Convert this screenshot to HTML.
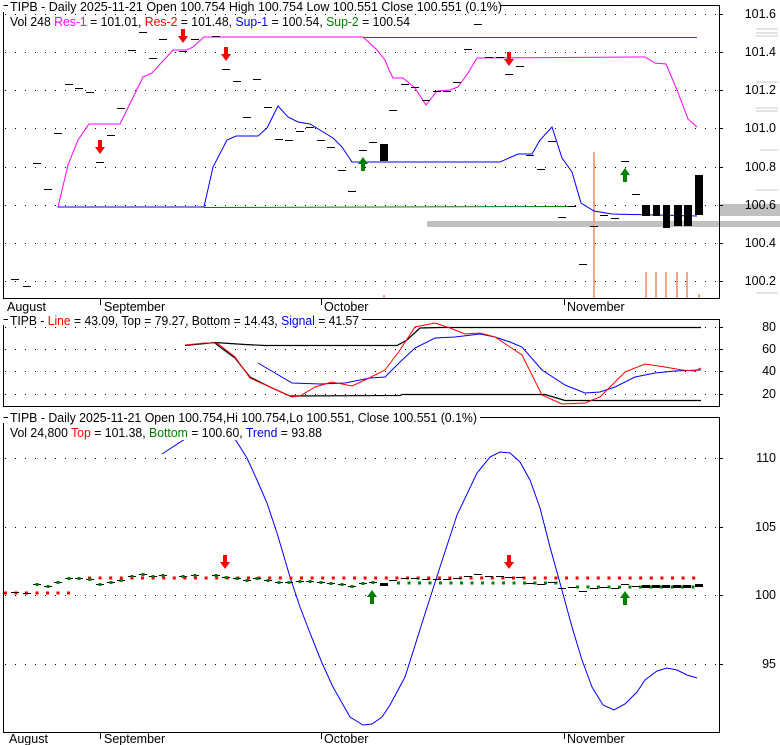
<!DOCTYPE html>
<html><head><meta charset="utf-8">
<style>
html,body{margin:0;padding:0;background:#fff;width:780px;height:745px;overflow:hidden}
svg{display:block;font-family:"Liberation Sans",Arial,sans-serif}
</style></head><body>
<svg id="s" width="780" height="745" viewBox="0 0 780 745" xmlns="http://www.w3.org/2000/svg">
<defs>
<clipPath id="cb"><rect x="4" y="440" width="715" height="292"/></clipPath>
</defs>
<rect width="780" height="745" fill="#fff"/>
<rect x="427" y="221" width="353" height="6" fill="#c0c0c0"/>
<rect x="719" y="204" width="61" height="12" fill="#c0c0c0"/>
<g stroke="#c8c8c8" stroke-width="1">
<line x1="756" y1="29" x2="778" y2="29"/><line x1="756" y1="33" x2="778" y2="33"/><line x1="756" y1="36" x2="778" y2="36"/>
<line x1="756" y1="82" x2="778" y2="82"/><line x1="756" y1="108" x2="778" y2="108"/><line x1="756" y1="111" x2="778" y2="111"/>
<line x1="760" y1="150" x2="778" y2="150"/><line x1="756" y1="190" x2="778" y2="190"/><line x1="756" y1="293" x2="778" y2="293"/>
</g>
<g stroke="#000" stroke-width="1" stroke-dasharray="1 9">
<line x1="5" y1="14.5" x2="719" y2="14.5"/><line x1="5" y1="52.5" x2="719" y2="52.5"/><line x1="5" y1="90.5" x2="719" y2="90.5"/>
<line x1="5" y1="128.5" x2="719" y2="128.5"/><line x1="5" y1="167.5" x2="719" y2="167.5"/><line x1="5" y1="205.5" x2="719" y2="205.5"/>
<line x1="5" y1="243.5" x2="719" y2="243.5"/><line x1="5" y1="281.5" x2="719" y2="281.5"/>
<line x1="5" y1="327.5" x2="719" y2="327.5"/><line x1="5" y1="349.5" x2="719" y2="349.5"/><line x1="5" y1="371.5" x2="719" y2="371.5"/><line x1="5" y1="394.5" x2="719" y2="394.5"/>
<line x1="5" y1="458.5" x2="719" y2="458.5"/><line x1="5" y1="527.5" x2="719" y2="527.5"/><line x1="5" y1="595.5" x2="719" y2="595.5"/><line x1="5" y1="664.5" x2="719" y2="664.5"/>
</g>
<g stroke="#f4a488" stroke-width="2">
<line x1="594" y1="152" x2="594" y2="298"/>
<line x1="646" y1="272" x2="646" y2="298"/><line x1="656" y1="272" x2="656" y2="298"/><line x1="666" y1="272" x2="666" y2="298"/><line x1="677" y1="272" x2="677" y2="298"/><line x1="687" y1="272" x2="687" y2="298"/>
<line x1="384" y1="295" x2="384" y2="298"/><line x1="699" y1="294" x2="699" y2="298"/>
</g>
<polyline fill="none" stroke="#ff00ff" stroke-width="1" points="58,207 68,165 78,140 89,124 120,124 143,77 152,73 173,50 187,50 193,47 204,37 363,37 377,50 385,60 390,72 393,78 403,78 415,88 426,105 437,91 450,90 458,87 468,73 477,58 645,57 655,63 666,64 677,90 688,119 697,127"/>
<line x1="363" y1="37.5" x2="697" y2="37.5" stroke="#ff0000"/>
<line x1="204" y1="207.5" x2="573" y2="206.5" stroke="#008000"/>
<polyline fill="none" stroke="#0000ff" stroke-width="1" points="58,207 204,207 213,167 227,140 236,136 258,136 267,128 278,106 288,117 298,122 310,124 320,130 333,138 342,147 352,162 500,162 518,154 532,154 540,140 552,127 562,158 572,172 581,203 594,211 612,214 697,216"/>
<g id="ticks"></g>
<g fill="#000">
<rect x="380" y="144" width="8" height="17"/>
<rect x="642" y="205" width="8" height="11"/><rect x="653" y="205" width="7" height="11"/><rect x="663" y="205" width="7" height="23"/><rect x="674" y="205" width="8" height="21"/><rect x="684" y="205" width="8" height="21"/><rect x="695" y="175" width="8" height="40"/>
</g>
<polyline fill="none" stroke="#000" stroke-width="1.2" points="185,345.5 215,342.5 245,344.5 265,345.5 397,345.5 407,340 420,328 440,327.5 701,327.5"/>
<polyline fill="none" stroke="#000" stroke-width="1.2" points="215,343 220,347 235,358 250,377 270,387 290,396 400,395.5 402,394.5 545,394.5 565,400.5 701,400.5"/>
<polyline fill="none" stroke="#0000ff" points="258,363 275,373 292,383 320,384 345,383 370,378 385,377 400,362 415,348 435,338 455,337 480,334 495,337 510,342 522,347 542,370 565,385 585,393 600,392 615,387 635,377 655,373 675,371 701,370"/>
<polyline fill="none" stroke="#ff0000" points="185,345 205,343 217,343 235,357 250,378 272,388 292,397 300,396 315,387 332,382 352,386 367,379 385,370 400,350 415,327 435,323 450,328 465,334 480,333 495,337 510,347 522,355 542,395 562,404 585,403 600,397 625,372 645,364 665,367 682,370 695,371 701,368"/>
<polyline clip-path="url(#cb)" fill="none" stroke="#0000ff" points="162,454 185,439 205,425 225,428 235,439 247,458 257,480 267,503 277,533 290,577 300,607 310,633 322,663 333,687 350,717 363,725 372,724 382,717 390,705 405,677 423,620 440,567 457,515 477,473 490,457 500,452 510,453 520,462 530,480 540,508 550,547 560,583 572,627 582,660 592,687 603,705 614,710 625,704 637,692 645,680 657,671 667,668 677,670 687,675 697,678"/>
<line x1="4" y1="593" x2="72" y2="593" stroke="#ff0000" stroke-width="3" stroke-dasharray="3 7.5"/>
<line x1="88" y1="578" x2="700" y2="578" stroke="#ff0000" stroke-width="3" stroke-dasharray="3 7.6"/>
<line x1="397" y1="583" x2="565" y2="583" stroke="#008000" stroke-width="3" stroke-dasharray="3 7.5"/>
<line x1="576" y1="587" x2="700" y2="587" stroke="#008000" stroke-width="3" stroke-dasharray="3 7.5"/>
<g id="bt"></g>
<g id="arr"></g>
<g fill="none" stroke="#000" stroke-width="1">
<polyline points="3.5,12 3.5,298.5 719.5,298.5 719.5,5.5 500,5.5"/>
<line x1="3.5" y1="5.5" x2="8" y2="5.5"/>
<polyline points="3.5,325 3.5,406.5 719.5,406.5 719.5,319.5 362,319.5"/>
<line x1="3.5" y1="319.5" x2="8" y2="319.5"/>
<polyline points="3.5,423 3.5,732.5 719.5,732.5 719.5,417.5 480,417.5"/>
<line x1="3.5" y1="417.5" x2="8" y2="417.5"/>
<line x1="100.5" y1="298" x2="100.5" y2="305"/><line x1="321.5" y1="298" x2="321.5" y2="305"/><line x1="564.5" y1="298" x2="564.5" y2="305"/>
<line x1="100.5" y1="732" x2="100.5" y2="739"/><line x1="321.5" y1="732" x2="321.5" y2="739"/><line x1="564.5" y1="732" x2="564.5" y2="739"/>
<g id="rt"></g>
</g>
<g font-size="12.5" fill="#000">
<text x="10" y="11" textLength="492" lengthAdjust="spacingAndGlyphs">TIPB - Daily 2025-11-21 Open 100.754  High 100.754  Low 100.551  Close 100.551 (0.1%)</text>
<text x="10" y="26" textLength="400" lengthAdjust="spacingAndGlyphs">Vol 248 <tspan fill="#ff00ff">Res-1</tspan> = 101.01, <tspan fill="#ff0000">Res-2</tspan> = 101.48, <tspan fill="#0000ff">Sup-1</tspan> = 100.54, <tspan fill="#008000">Sup-2</tspan> = 100.54</text>
<text x="10" y="325" textLength="349" lengthAdjust="spacingAndGlyphs">TIPB - <tspan fill="#ff0000">Line</tspan> = 43.09, Top = 79.27, Bottom = 14.43, <tspan fill="#0000ff">Signal</tspan> = 41.57</text>
<text x="10" y="422" textLength="467" lengthAdjust="spacingAndGlyphs">TIPB - Daily 2025-11-21 Open 100.754,Hi 100.754,Lo 100.551, Close 100.551 (0.1%)</text>
<text x="10" y="437" textLength="312" lengthAdjust="spacingAndGlyphs">Vol 24,800 <tspan fill="#ff0000">Top</tspan> = 101.38, <tspan fill="#008000">Bottom</tspan> = 100.60, <tspan fill="#0000ff">Trend</tspan> = 93.88</text>
<text x="7" y="311">August</text><text x="104" y="311">September</text><text x="324" y="311">October</text><text x="567" y="311">November</text>
<text x="9" y="743">August</text><text x="104" y="743">September</text><text x="324" y="743">October</text><text x="567" y="743">November</text>
<g text-anchor="end">
<text x="776" y="18">101.6</text><text x="776" y="56">101.4</text><text x="776" y="94">101.2</text><text x="776" y="132">101.0</text><text x="776" y="171">100.8</text><text x="776" y="209">100.6</text><text x="776" y="247">100.4</text><text x="776" y="285">100.2</text>
<text x="776" y="331">80</text><text x="776" y="353">60</text><text x="776" y="375">40</text><text x="776" y="398">20</text>
<text x="776" y="462">110</text><text x="776" y="531">105</text><text x="776" y="599">100</text><text x="776" y="668">95</text>
</g>
</g>
</svg>
<script>
var NS="http://www.w3.org/2000/svg";
function el(p,t,a){var e=document.createElementNS(NS,t);for(var k in a)e.setAttribute(k,a[k]);p.appendChild(e);return e;}
var T=[[15,279],[27,286],[37,163],[48,189],[58,133],[69,84],[79,88],[90,92],[100,162],[111,135],[121,108],[132,50],[143,32],[153,58],[163,39],[183,51],[195,39],[216,36],[226,69],[237,81],[247,117],[257,79],[268,107],[279,139],[289,140],[300,131],[310,127],[321,140],[331,147],[342,170],[352,191],[363,150],[373,142],[393,110],[405,84],[415,87],[426,100],[437,91],[447,91],[457,82],[468,49],[478,24],[489,57],[500,57],[509,74],[520,66],[530,155],[541,169],[552,141],[562,217],[572,206],[583,264],[594,226],[604,215],[615,218],[625,161],[636,194]];
var g=document.getElementById('ticks'),b=document.getElementById('bt');
T.forEach(function(p){el(g,'line',{x1:p[0]-4,y1:p[1]+.5,x2:p[0]+4,y2:p[1]+.5,stroke:'#000'});
var y=Math.round(573+(p[1]-14)*0.0717)+.5;el(b,'line',{x1:p[0]-4,y1:y,x2:p[0]+4,y2:y,stroke:'#000','stroke-width':1});
if(p[0]>30&&p[0]<390)el(b,'rect',{x:p[0]-1.5,y:y-1.5,width:3,height:3,fill:'#008000'});});
[[384,585],[646,587],[656,587],[666,587],[677,587],[687,587],[699,586]].forEach(function(p){el(b,'rect',{x:p[0]-4,y:p[1]-2,width:8,height:3,fill:'#000'});});
var a=document.getElementById('arr');
function down(x,t,c){el(a,'path',{d:'M'+(x-2)+' '+t+'h4v7h3l-5 7l-5-7h3z',fill:c});}
function up(x,t,c){el(a,'path',{d:'M'+x+' '+t+'l5 7h-3v7h-4v-7h-3z',fill:c});}
down(100,140,'#ff0000');down(183,29,'#ff0000');down(226,47,'#ff0000');down(509,52,'#ff0000');
up(363,157,'#008000');up(625,168,'#008000');
down(225,555,'#ff0000');down(509,555,'#ff0000');up(372,590,'#008000');up(625,591,'#008000');
var r=document.getElementById('rt');
[14,52,90,128,167,205,243,281,327,349,371,394,458,527,595,664].forEach(function(y){el(r,'line',{x1:719,y1:y+.5,x2:723,y2:y+.5});});
</script>
</body></html>
